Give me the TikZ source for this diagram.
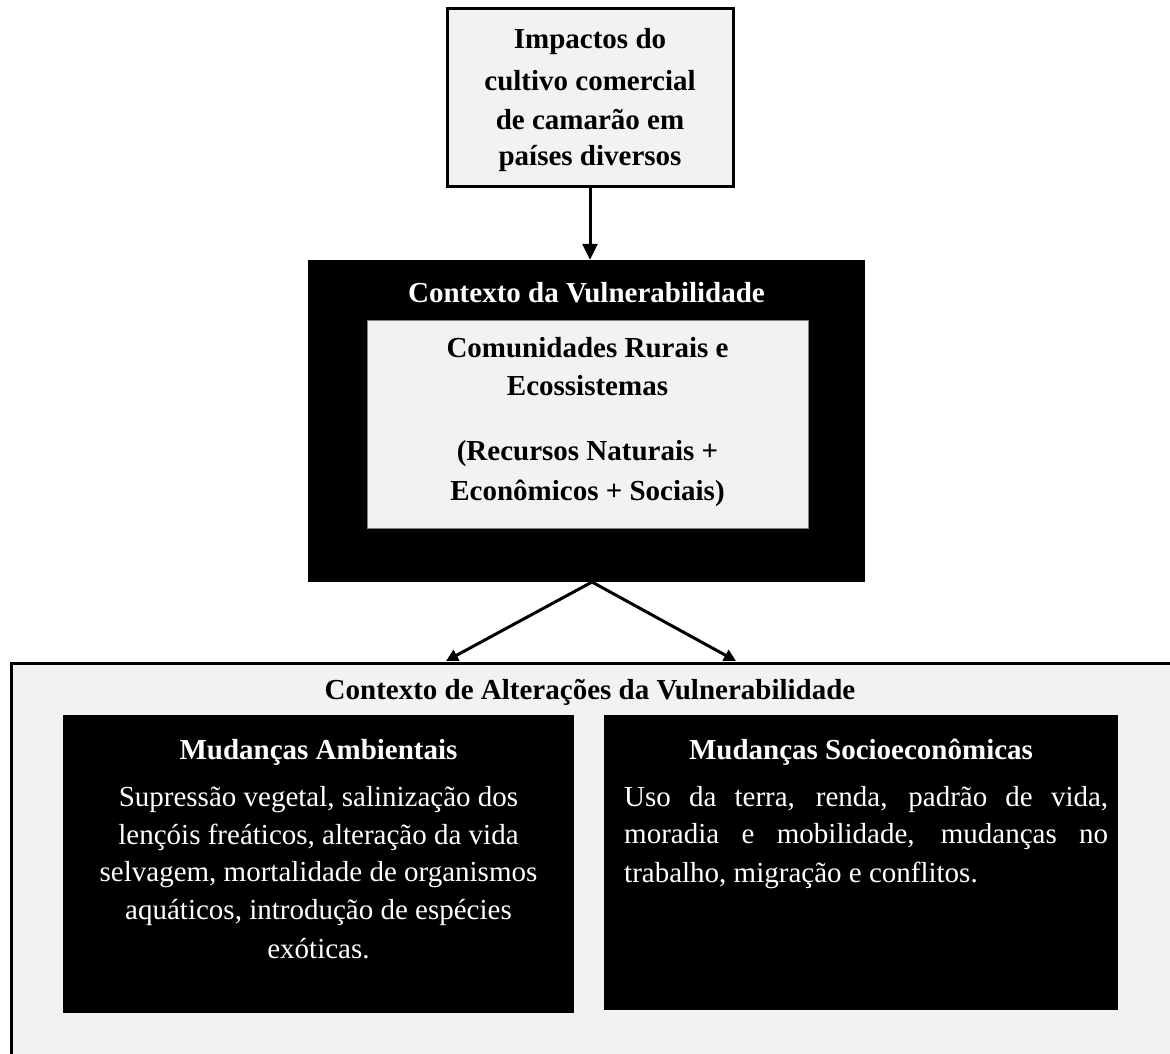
\documentclass[tikz,border=0pt]{standalone}
\usepackage{fontspec}
\setmainfont{Liberation Serif}
\usetikzlibrary{arrows.meta}
\definecolor{lgray}{HTML}{F2F2F2}
\begin{document}
\begin{tikzpicture}[x=1pt,y=-1pt,
  txt/.style={inner sep=0pt, font=\fontsize{29}{38}\selectfont},
  btxt/.style={txt, font=\fontsize{29}{38}\selectfont\bfseries},
  wtxt/.style={txt, text=white},
  wbtxt/.style={btxt, text=white},
  graybox/.style={draw, line width=3pt, fill=lgray, inner sep=0pt},
  blackbox/.style={fill=black, inner sep=0pt},
  arr/.style={line width=3pt, -{Triangle[length=16pt,width=15pt]}},
  varr/.style={line width=3pt, -{Triangle[length=12pt,width=12pt]}}]
\useasboundingbox (0,0) rectangle (1170,1054);
\fill[white] (0,0) rectangle (1170,1054);
% top box
\node[graybox, minimum width=286pt, minimum height=177pt] (top) at (590,97.5) {};
\node[btxt] (t1) at (590,42) {Impactos do};
\node[btxt] (t2) at (590,81) {cultivo comercial};
\node[btxt] (t3) at (590,120) {de camarão em};
\node[btxt] (t4) at (590,159) {países diversos};
% context box
\node[blackbox, minimum width=557pt, minimum height=322pt] (ctx) at (586.5,421) {};
\node[wbtxt] (ctxt) at (586.5,293) {Contexto da Vulnerabilidade};
\node[draw=gray, line width=0.8pt, fill=lgray, inner sep=0pt, minimum width=441pt, minimum height=208pt] (inner) at (587.5,424) {};
\node[btxt] (i1) at (587.5,348) {Comunidades Rurais e};
\node[btxt] (i2) at (587.5,386) {Ecossistemas};
\node[btxt] (i3) at (587.5,454) {(Recursos Naturais +};
\node[btxt] (i4) at (587.5,493) {Econômicos + Sociais)};
% big box
\node[graybox, minimum width=1180pt, minimum height=420pt, anchor=north west] (alt) at (10,662) {};
\node[btxt] (altt) at (590,692) {Contexto de Alterações da Vulnerabilidade};
% left black box
\node[blackbox, minimum width=511pt, minimum height=298pt] (amb) at (318.5,864) {};
\node[wbtxt] (ambt) at (318.5,752) {Mudanças Ambientais};
\node[wtxt] (a1) at (318.5,800) {Supressão vegetal, salinização dos};
\node[wtxt] (a2) at (318.5,837) {lençóis freáticos, alteração da vida};
\node[wtxt] (a3) at (318.5,875) {selvagem, mortalidade de organismos};
\node[wtxt] (a4) at (318.5,912) {aquáticos, introdução de espécies};
\node[wtxt] (a5) at (318.5,949) {exóticas.};
% right black box
\node[blackbox, minimum width=514pt, minimum height=295pt] (soc) at (861,862.5) {};
\node[wbtxt] (soct) at (861,752) {Mudanças Socioeconômicas};
\node[wtxt, anchor=west] (s1) at (624,800) {\makebox[484pt][s]{Uso da terra, renda, padrão de vida,}};
\node[wtxt, anchor=west] (s2) at (624,837) {\makebox[484pt][s]{moradia e mobilidade, mudanças no}};
\node[wtxt, anchor=west] (s3) at (624,875) {trabalho, migração e conflitos.};
% arrows
\coordinate (apex) at (592,582);
\coordinate (tipL) at (446,661);
\coordinate (tipR) at (736,661);
\draw[arr] (top.south) -- (ctx.north -| top.south);
\draw[varr] (apex) -- (tipL);
\draw[varr] (apex) -- (tipR);
\end{tikzpicture}
\end{document}
